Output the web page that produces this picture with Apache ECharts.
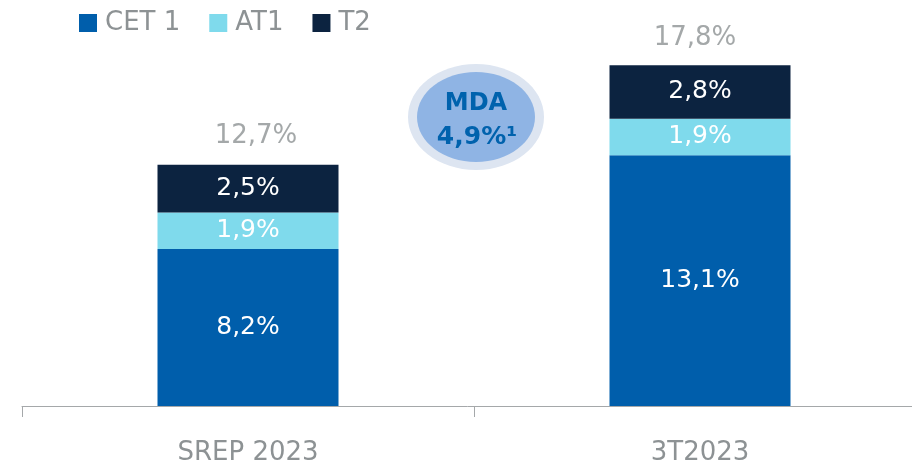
<!DOCTYPE html>
<html>
<head>
<meta charset="utf-8">
<style>
  html, body { margin: 0; padding: 0; background: #ffffff; }
  #chart { width: 912px; height: 463px; }
</style>
<script src="https://cdn.jsdelivr.net/npm/echarts@6/dist/echarts.min.js"></script>
</head>
<body>
<div id="chart"></div>
<script>
// Capital structure by tier
const categories = ['SREP 2023', '3T2023'];
const cet1 = [8.2, 13.1];
const at1 = [1.9, 1.9];
const t2 = [2.5, 2.8];
const totals = [12.7, 17.8];
const mdaLines = ['MDA', '4,9%¹'];

const FONT = '"DejaVu Sans"';
const GREY = '#8d9294';
const fmt = v => v.toFixed(1).replace('.', ',') + '%';
// small horizontal nudges for the total labels above each stack
const totalShift = [[8, 0], [-5, 0]];

const chart = echarts.init(document.getElementById('chart'));

const insideLabel = {
  show: true,
  position: 'inside',
  color: '#ffffff',
  fontFamily: FONT,
  fontSize: 25,
  formatter: p => fmt(p.value)
};

chart.setOption({
  animation: false,
  textStyle: { fontFamily: FONT },
  legend: {
    left: 79,
    top: 10,
    padding: 0,
    icon: 'rect',
    itemWidth: 18,
    itemHeight: 18,
    itemGap: 29,
    textStyle: { color: GREY, fontSize: 26, fontFamily: FONT, padding: [0, 0, 0, 3] },
    data: ['CET 1', 'AT1', 'T2']
  },
  grid: { left: 22, width: 904, top: 23, bottom: 57, containLabel: false, outerBoundsMode: 'none' },
  xAxis: {
    type: 'category',
    data: categories,
    axisLine: { lineStyle: { color: '#a5a8aa', width: 1 } },
    axisTick: { show: true, length: 11, lineStyle: { color: '#a5a8aa' } },
    axisLabel: { color: GREY, fontSize: 26, fontFamily: FONT, margin: 34 }
  },
  yAxis: {
    type: 'value',
    min: 0,
    max: 20,
    show: false,
    splitLine: { show: false }
  },
  series: [
    {
      name: 'CET 1', type: 'bar', stack: 'capital', barWidth: 181,
      itemStyle: { color: '#005eab' },
      label: insideLabel,
      data: cet1
    },
    {
      name: 'AT1', type: 'bar', stack: 'capital', barWidth: 181,
      itemStyle: { color: '#7fdaec' },
      label: insideLabel,
      data: at1
    },
    {
      name: 'T2', type: 'bar', stack: 'capital', barWidth: 181,
      itemStyle: { color: '#0c2340' },
      label: insideLabel,
      data: t2
    },
    {
      name: 'Total', type: 'scatter', symbolSize: 0,
      label: {
        show: true, position: 'top', distance: 14,
        color: GREY, fontSize: 26, fontFamily: FONT,
        formatter: p => fmt(p.value)
      },
      data: totals.map((v, i) => ({ value: v, label: { offset: totalShift[i] } }))
    }
  ],
  graphic: [
    {
      type: 'group',
      left: 408,
      top: 64,
      children: [
        { type: 'ellipse', shape: { cx: 68, cy: 53, rx: 68, ry: 53 }, style: { fill: '#dde5f1' } },
        { type: 'ellipse', shape: { cx: 68, cy: 53, rx: 59, ry: 45 }, style: { fill: '#8fb4e4' } },
        { type: 'text', x: 68, y: 40, style: { text: mdaLines[0], fill: '#0062ad', font: 'bold 24px "DejaVu Sans"', align: 'center', verticalAlign: 'middle' } },
        { type: 'text', x: 69, y: 73, style: { text: mdaLines[1], fill: '#0062ad', font: 'bold 25px "DejaVu Sans"', align: 'center', verticalAlign: 'middle' } }
      ]
    }
  ]
});
</script>
</body>
</html>
